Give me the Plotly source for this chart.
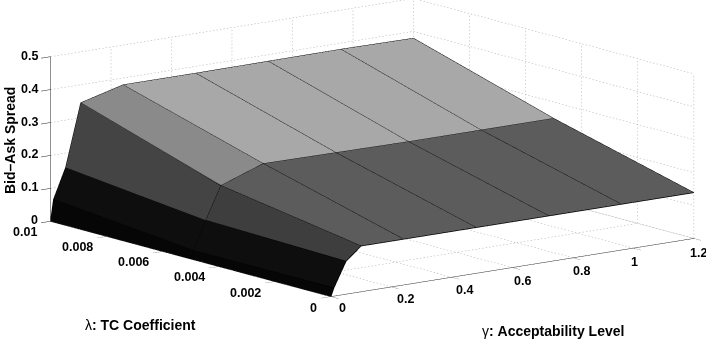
import numpy as np
import plotly.graph_objects as go

# Grid of the surface
gamma = [0, 0.01, 0.05, 0.1, 0.24, 0.48, 0.72, 0.96, 1.2]
lam = [0, 0.005, 0.01]

# Bid-ask spread, one row per lambda
spread_l0 = [0, 0.025, 0.10, 0.139, 0.139, 0.139, 0.139, 0.139, 0.139]
spread_l5 = [0, 0.024, 0.11, 0.208, 0.254, 0.252, 0.25, 0.25, 0.25]
spread_l10 = [0, 0.065, 0.156, 0.345, 0.379, 0.379, 0.38, 0.381, 0.379]

# Facet greys, one row per lambda strip
grey_low = [6, 14, 62, 92, 92, 92, 92, 92]
grey_high = [6, 14, 68, 138, 168, 168, 168, 168]

gamma_ticks = [0, 0.2, 0.4, 0.6, 0.8, 1, 1.2]
lam_ticks = [0, 0.002, 0.004, 0.006, 0.008, 0.01]
z_ticks = [0, 0.1, 0.2, 0.3, 0.4, 0.5]

Z = np.array([spread_l0, spread_l5, spread_l10])
G, L = np.meshgrid(gamma, lam)

# Two triangles per facet, each with the flat grey of its facet
ii, jj, kk, face = [], [], [], []
n_g = len(gamma)
for row, greys in enumerate([grey_low, grey_high]):
    for col, g in enumerate(greys):
        a = row * n_g + col
        b = a + 1
        c = a + n_g
        d = c + 1
        ii += [a, a]
        jj += [b, d]
        kk += [d, c]
        face += [f"rgb({g},{g},{g})"] * 2

fig = go.Figure()

grid_x, grid_y, grid_z = [], [], []


# plotly's own dash comes out far too long here, so chop each grid line into dots
def add_dotted(p0, p1, n):
    p0, p1 = np.array(p0, float), np.array(p1, float)
    for t in np.arange(n) / n:
        a = p0 + (p1 - p0) * t
        b = p0 + (p1 - p0) * (t + 0.4 / n)
        grid_x.extend([a[0], b[0], None])
        grid_y.extend([a[1], b[1], None])
        grid_z.extend([a[2], b[2], None])


# Dotted grid on the floor and the two back walls
for g in gamma_ticks:
    add_dotted([g, 0, 0], [g, 0.01, 0], 83)
    add_dotted([g, 0.01, 0], [g, 0.01, 0.5], 47)
for l in lam_ticks:
    add_dotted([0, l, 0], [1.2, l, 0], 105)
    add_dotted([1.2, l, 0], [1.2, l, 0.5], 47)
for z in z_ticks:
    add_dotted([0, 0.01, z], [1.2, 0.01, z], 105)
    add_dotted([1.2, 0.01, z], [1.2, 0, z], 83)
fig.add_trace(go.Scatter3d(x=grid_x, y=grid_y, z=grid_z, mode='lines',
                           line=dict(color='#a8a8a8', width=1),
                           hoverinfo='skip', showlegend=False))

fig.add_trace(go.Mesh3d(x=G.ravel(), y=L.ravel(), z=Z.ravel(),
                        i=ii, j=jj, k=kk, facecolor=face, flatshading=True,
                        lighting=dict(ambient=1, diffuse=0, specular=0, fresnel=0, roughness=1),
                        hoverinfo='skip', showscale=False))

# Facet edges
edge_x, edge_y, edge_z = [], [], []
for col in range(n_g):
    edge_x += list(G[:, col]) + [None]
    edge_y += list(L[:, col]) + [None]
    edge_z += list(Z[:, col]) + [None]
for row in range(len(lam)):
    edge_x += list(G[row]) + [None]
    edge_y += list(L[row]) + [None]
    edge_z += list(Z[row]) + [None]
fig.add_trace(go.Scatter3d(x=edge_x, y=edge_y, z=edge_z, mode='lines',
                           line=dict(color='black', width=1.5),
                           hoverinfo='skip', showlegend=False))

axis_common = dict(showgrid=False, zeroline=False, showline=True, linecolor='#202020', linewidth=1,
                   ticks='outside', ticklen=12, tickcolor='#202020', showticklabels=False,
                   showbackground=False, showspikes=False, title='', tickmode='array')

# Native 3D tick labels can't be offset, so the labels are scene annotations
tick_font = dict(family='Liberation Sans', size=12.5, color='black')
tick_labels = []
for g in gamma_ticks:
    tick_labels.append(dict(x=g, y=0, z=0, text=f'<b>{g}</b>', showarrow=False, font=tick_font,
                            xanchor='left', yanchor='middle', xshift=6 - 10 * g, yshift=-11.5 - 2.5 * g))
for l in lam_ticks:
    tick_labels.append(dict(x=0, y=l, z=0, text=f'<b>{l}</b>', showarrow=False, font=tick_font,
                            xanchor='right', yanchor='middle', xshift=-12, yshift=-11))
for z in z_ticks:
    tick_labels.append(dict(x=0, y=0.01, z=z, text=f'<b>{z}</b>', showarrow=False, font=tick_font,
                            xanchor='right', yanchor='middle', xshift=-11, yshift=1))

# Orthographic view worked out from the axis directions in the picture
eye_dir = np.array([-0.598, -0.774, 0.2075])
center = np.array([-0.1061, 0.0468, -0.1317])
eye = center + 4 * eye_dir

fig.update_layout(
    width=706, height=341, paper_bgcolor='white', margin=dict(l=0, r=0, t=0, b=0),
    showlegend=False,
    scene=dict(
        domain=dict(x=[0, 1], y=[0, 1]),
        xaxis=dict(axis_common, range=[0, 1.2], tickvals=gamma_ticks),
        yaxis=dict(axis_common, range=[0, 0.01], tickvals=lam_ticks),
        zaxis=dict(axis_common, range=[0, 0.5], tickvals=z_ticks),
        aspectmode='manual', aspectratio=dict(x=2.69, y=2.69, z=0.987),
        camera=dict(projection=dict(type='orthographic'),
                    eye=dict(x=eye[0], y=eye[1], z=eye[2]),
                    center=dict(x=center[0], y=center[1], z=center[2]),
                    up=dict(x=0, y=0, z=1)),
        annotations=tick_labels,
    ),
    annotations=[
        dict(text='<b>Bid\u2013Ask Spread</b>', x=10 / 706, y=1 - 141 / 341, xref='paper', yref='paper',
             textangle=-90, showarrow=False, xanchor='center', yanchor='middle',
             font=dict(family='Liberation Sans', size=14, color='black')),
        dict(text='\u03bb<b>: TC Coefficient</b>', x=140 / 706, y=1 - 325 / 341, xref='paper', yref='paper',
             showarrow=False, xanchor='center', yanchor='middle',
             font=dict(family='Liberation Sans', size=14, color='black')),
        dict(text='\u03b3<b>: Acceptability Level</b>', x=553 / 706, y=1 - 331 / 341, xref='paper', yref='paper',
             showarrow=False, xanchor='center', yanchor='middle',
             font=dict(family='Liberation Sans', size=14, color='black')),
    ],
)

# The page's default body margin would push the plot off by 8px
fig.write_html("out.html", config=dict(displayModeBar=False),
               post_script="document.body.style.margin = '0';")
